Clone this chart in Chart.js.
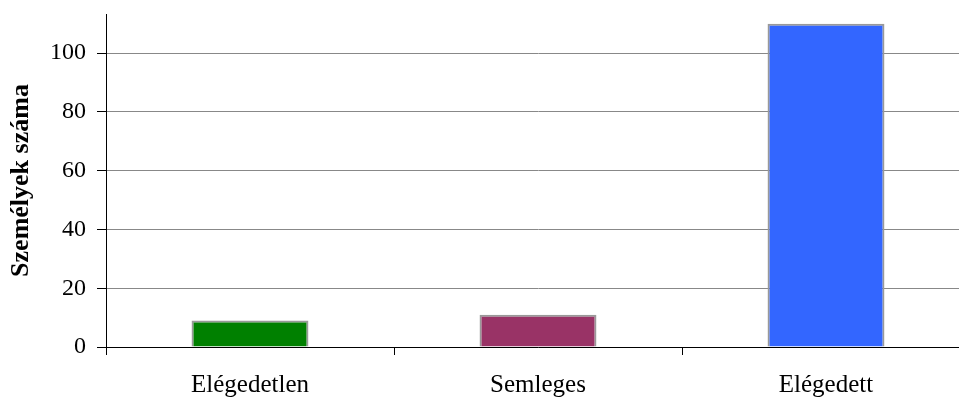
<!DOCTYPE html>
<html>
<head>
<meta charset="utf-8">
<script src="https://cdn.jsdelivr.net/npm/chart.js@4.4.1/dist/chart.umd.min.js"></script>
<style>
  html, body { margin: 0; padding: 0; background: #fff; overflow: hidden; }
  #wrap { position: relative; width: 975px; height: 399px; }
</style>
</head>
<body>
<div id="wrap"><canvas id="c" width="975" height="399"></canvas></div>
<script>
const categories = ['Elégedetlen', 'Semleges', 'Elégedett'];
const counts = [9, 11, 110];
const barColors = ['#008000', '#993366', '#3366FF'];
const yTickValues = [0, 20, 40, 60, 80, 100];
const yTitle = 'Személyek száma';

const serif = '"Liberation Serif", "Times New Roman", serif';

new Chart(document.getElementById('c'), {
  type: 'bar',
  data: {
    labels: categories,
    datasets: [{
      data: counts,
      backgroundColor: barColors,
      borderColor: '#999999',
      borderWidth: 2,
      barPercentage: 0.406,
      categoryPercentage: 1
    }]
  },
  options: {
    responsive: false,
    animation: false,
    devicePixelRatio: 1,
    layout: { padding: { top: 14, right: 5, left: 0, bottom: 0 } },
    plugins: { legend: { display: false }, tooltip: { enabled: false } },
    scales: {
      x: {
        grid: {
          offset: true,
          drawOnChartArea: false,
          drawTicks: true,
          tickLength: 8,
          tickColor: '#000'
        },
        border: { color: '#000', width: 1 },
        ticks: {
          color: '#000',
          font: { family: serif, size: 25 },
          padding: 15,
          maxRotation: 0
        },
        afterFit: s => { s.height = 52; }
      },
      y: {
        min: 0,
        max: 113.3,
        afterBuildTicks: s => { s.ticks = yTickValues.map(v => ({ value: v })); },
        grid: {
          color: '#888888',
          lineWidth: 1,
          tickLength: 9,
          tickColor: '#000'
        },
        border: { color: '#000', width: 1 },
        ticks: {
          color: '#000',
          font: { family: serif, size: 24 },
          padding: 11
        },
        title: {
          display: true,
          text: yTitle,
          color: '#000',
          font: { family: serif, size: 26, weight: 'bold' },
          padding: { top: 6, bottom: 0 }
        },
        afterFit: s => { s.width = 106; s.paddingTop = 0; }
      }
    }
  }
});
</script>
</body>
</html>
